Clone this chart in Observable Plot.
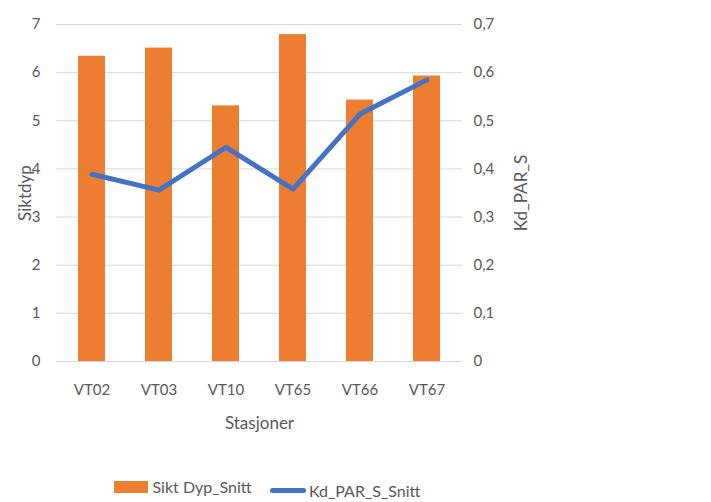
<!DOCTYPE html>
<html>
<head>
<meta charset="utf-8">
<script src="https://cdn.jsdelivr.net/npm/d3@7"></script>
<script src="https://cdn.jsdelivr.net/npm/@observablehq/plot@0.6"></script>
<style>
  body { margin: 0; background: #fff; font-family: Lato, "Open Sans", sans-serif; color: #595959; }
  #wrap { position: relative; width: 711px; height: 502px; overflow: hidden; }
  #legend { position: absolute; left: 0; top: 477px; width: 535px; height: 22px; text-align: center; font-size: 16px; line-height: 20px; white-space: nowrap; }
  .item { display: inline-flex; align-items: center; margin: 0 7px; }
  .sw-bar { display: inline-block; width: 34px; height: 12px; background: #ED7D31; margin-right: 4px; }
  .sw-line { display: inline-block; width: 36px; height: 5px; border-radius: 2.5px; background: #4472C4; margin-right: 3px; }
</style>
</head>
<body>
<div id="wrap">
  <div id="chart"></div>
  <div id="legend">
    <span class="item"><span class="sw-bar"></span>Sikt Dyp_Snitt</span>
    <span class="item"><span class="sw-line"></span>Kd_PAR_S_Snitt</span>
  </div>
</div>
<script>
const stations = ["VT02", "VT03", "VT10", "VT65", "VT66", "VT67"];
const siktDyp = [6.34, 6.51, 5.31, 6.79, 5.43, 5.93];
const kdPar = [0.389, 0.356, 0.445, 0.358, 0.514, 0.585];
const leftTicks = [0, 1, 2, 3, 4, 5, 6, 7];
const rightTicks = [0, 0.1, 0.2, 0.3, 0.4, 0.5, 0.6, 0.7];

const data = stations.map((s, i) => ({station: s, sikt: siktDyp[i], kd: kdPar[i]}));
const fmtComma = v => String(v).replace(".", ",");

const chart = Plot.plot({
  width: 711,
  height: 476,
  marginLeft: 56,
  marginRight: 249,
  marginTop: 24,
  marginBottom: 115,
  style: {fontFamily: "Lato, 'Open Sans', sans-serif", fontSize: "15px", color: "#595959", background: "transparent"},
  x: {domain: stations, paddingInner: 0.6, paddingOuter: 0.3, label: null},
  y: {domain: [0, 7], label: null},
  marks: [
    Plot.gridY(leftTicks, {stroke: "#d9d9d9", strokeOpacity: 1, strokeWidth: 1}),
    Plot.barY(data, {x: "station", y: "sikt", fill: "#ED7D31"}),
    Plot.line(data, {x: "station", y: d => d.kd * 10, stroke: "#4472C4", strokeWidth: 5, strokeLinejoin: "round", strokeLinecap: "round"}),
    Plot.axisY(leftTicks, {anchor: "left", tickSize: 0, tickPadding: 16, label: null, fontSize: 15}),
    Plot.axisY(leftTicks, {anchor: "right", tickSize: 0, tickPadding: 11, label: null, fontSize: 15, tickFormat: (d) => fmtComma(rightTicks[leftTicks.indexOf(d)])}),
    Plot.axisX(stations, {anchor: "bottom", tickSize: 0, tickPadding: 23, label: null, fontSize: 15}),
    Plot.text(["Siktdyp"], {frameAnchor: "left", dx: -31, rotate: -90, textAnchor: "middle", fontSize: 17, fill: "#595959"}),
    Plot.text(["Kd_PAR_S"], {frameAnchor: "right", dx: 59, rotate: -90, textAnchor: "middle", fontSize: 17, fill: "#595959"}),
    Plot.text(["Stasjoner"], {frameAnchor: "bottom", dy: 67, textAnchor: "middle", fontSize: 17, fill: "#595959"})
  ]
});
document.getElementById("chart").appendChild(chart);
</script>
</body>
</html>
